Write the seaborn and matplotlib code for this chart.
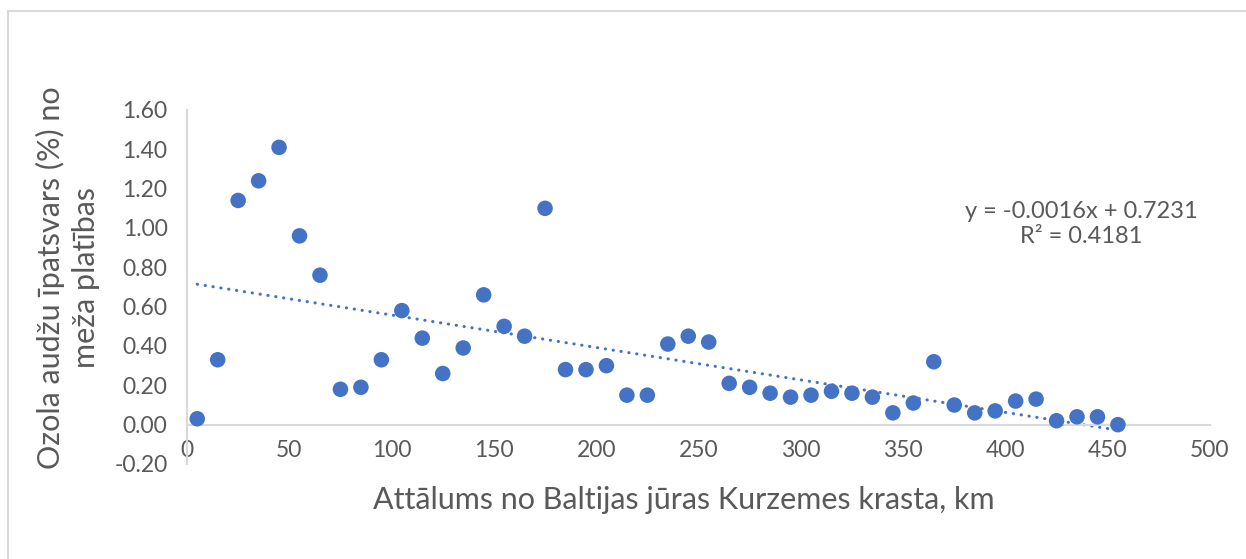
import numpy as np
import pandas as pd
import seaborn as sns
import matplotlib.pyplot as plt
from matplotlib.lines import Line2D

# distance from the Courland coast, km
distance = [5, 15, 25, 35, 45, 55, 65, 75, 85, 95,
            105, 115, 125, 135, 145, 155, 165, 175, 185, 195,
            205, 215, 225, 235, 245, 255, 265, 275, 285, 295,
            305, 315, 325, 335, 345, 355, 365, 375, 385, 395,
            405, 415, 425, 435, 445, 455]
# oak stand share (%) of forest area
oak_share = [0.03, 0.33, 1.14, 1.24, 1.41, 0.96, 0.76, 0.18, 0.19, 0.33,
             0.58, 0.44, 0.26, 0.39, 0.66, 0.50, 0.45, 1.10, 0.28, 0.28,
             0.30, 0.15, 0.15, 0.41, 0.45, 0.42, 0.21, 0.19, 0.16, 0.14,
             0.15, 0.17, 0.16, 0.14, 0.06, 0.11, 0.32, 0.10, 0.06, 0.07,
             0.12, 0.13, 0.02, 0.04, 0.04, 0.00]

x_ticks = [0, 50, 100, 150, 200, 250, 300, 350, 400, 450, 500]
y_ticks = [-0.2, 0.0, 0.2, 0.4, 0.6, 0.8, 1.0, 1.2, 1.4, 1.6]

x_title = "Attālums no Baltijas jūras Kurzemes krasta, km"
y_title = "Ozola audžu īpatsvars (%) no\nmeža platības"
equation = "y = -0.0016x + 0.7231\nR² = 0.4181"

df = pd.DataFrame({"dist": distance, "share": oak_share})

sns.set_theme(style="white")
plt.rcParams["font.family"] = ["Lato", "DejaVu Sans"]

blue = "#4472C4"
grey_txt = "#595959"
grey_line = "#D9D9D9"

W, H = 1246, 559
fig = plt.figure(figsize=(W / 100, H / 100), dpi=100)
ax = fig.add_axes([187 / W, 1 - 464 / H, (1210 - 187) / W, (464 - 110) / H])

# dotted linear trend line
sns.regplot(data=df, x="dist", y="share", scatter=False, ci=None, ax=ax,
            line_kws=dict(color=blue, lw=2.2, linestyle=(0, (0.1, 2.5)),
                          dash_capstyle="round"))
sns.scatterplot(data=df, x="dist", y="share", ax=ax, color=blue, s=125,
                edgecolor="none", zorder=3)

ax.set_xlim(0, 500)
ax.set_ylim(-0.2, 1.6)
ax.set_xticks(x_ticks)
ax.set_yticks(y_ticks)
ax.set_yticklabels([f"{v:.2f}" for v in y_ticks])
ax.set_xlabel("")
ax.set_ylabel("")

for s in ["top", "right"]:
    ax.spines[s].set_visible(False)
ax.spines["bottom"].set_position(("data", 0))
for s in ["left", "bottom"]:
    ax.spines[s].set_color(grey_line)
    ax.spines[s].set_linewidth(1.5)
ax.tick_params(axis="both", length=0, labelsize=16.5, labelcolor=grey_txt)
ax.tick_params(axis="x", pad=11)
ax.tick_params(axis="y", pad=14)

fig.text(0.5 * (370 + 997) / W, 1 - 500 / H, x_title, ha="center", va="center",
         fontsize=22, color=grey_txt)
fig.text(68 / W, 1 - 278 / H, y_title, ha="center", va="center", rotation=90,
         multialignment="center", fontsize=22, color=grey_txt, linespacing=1.3)
fig.text(1081 / W, 1 - 224 / H, equation, ha="center", va="center",
         multialignment="center", fontsize=17, color=grey_txt, linespacing=1.2)

# chart area border (only top and left visible in the crop)
fig.add_artist(Line2D([8 / W, 1], [1 - 11 / H, 1 - 11 / H], color=grey_line, lw=1.5,
                      transform=fig.transFigure))
fig.add_artist(Line2D([8 / W, 8 / W], [1 - 11 / H, 0], color=grey_line, lw=1.5,
                      transform=fig.transFigure))

fig.savefig("out.png", dpi=100)
